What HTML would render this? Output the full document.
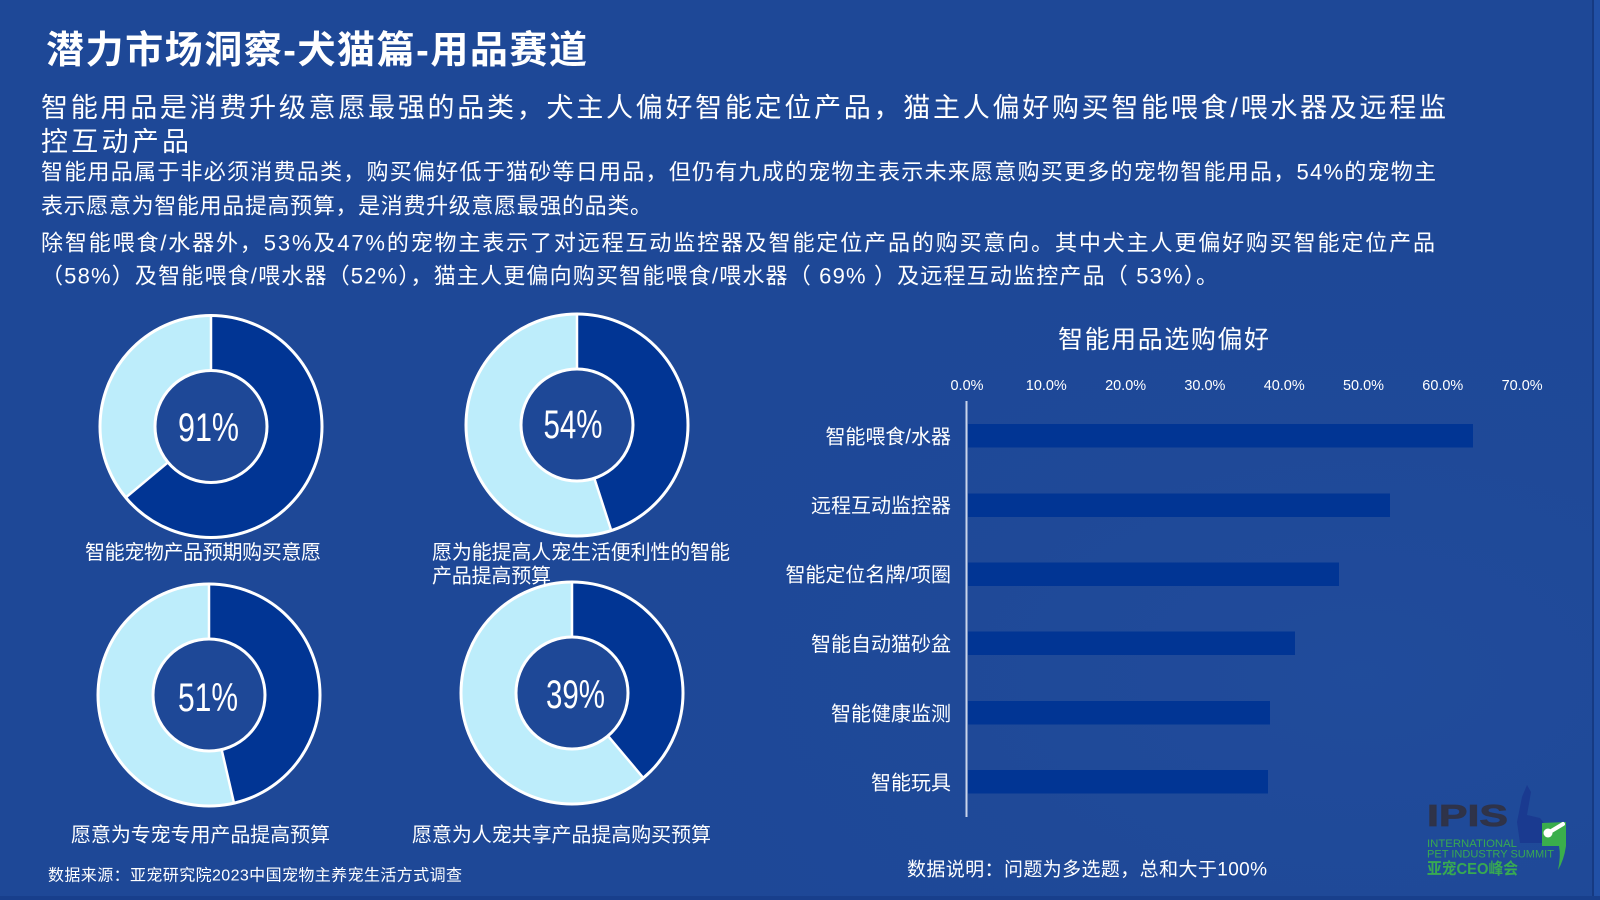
<!DOCTYPE html>
<html>
<head>
<meta charset="utf-8">
<style>
html,body{margin:0;padding:0;background:#1e4897;}
body{width:1600px;height:900px;overflow:hidden;}
svg{display:block;}
text{font-family:"Liberation Sans","Noto Sans CJK SC",sans-serif;fill:#ffffff;}
</style>
</head>
<body>
<svg width="1600" height="900" viewBox="0 0 1600 900" xmlns="http://www.w3.org/2000/svg">
  <defs>
    <radialGradient id="bgGlow" cx="0.85" cy="0.75" r="0.6">
      <stop offset="0" stop-color="#2552a3" stop-opacity="0.35"/>
      <stop offset="1" stop-color="#1e4897" stop-opacity="0"/>
    </radialGradient>
  </defs>
  <rect x="0" y="0" width="1600" height="900" fill="#1e4897"/>
  <rect x="0" y="0" width="1600" height="900" fill="url(#bgGlow)"/>
  <!-- edges -->
  <rect x="1592" y="0" width="2" height="900" fill="#163a82"/>
  <rect x="1594" y="0" width="6" height="900" fill="#2150a6"/>
  <rect x="0" y="896" width="1600" height="4" fill="#183f8c"/>

  <!-- Title -->
  <text x="46" y="63" font-size="38" font-weight="700" textLength="541" lengthAdjust="spacing">潜力市场洞察-犬猫篇-用品赛道</text>

  <!-- Subtitle -->
  <text x="41" y="117" font-size="27" textLength="1405" lengthAdjust="spacing">智能用品是消费升级意愿最强的品类，犬主人偏好智能定位产品，猫主人偏好购买智能喂食/喂水器及远程监</text>
  <text x="41" y="151" font-size="27" textLength="148" lengthAdjust="spacing">控互动产品</text>

  <!-- Body -->
  <text x="41" y="179.5" font-size="22" textLength="1395" lengthAdjust="spacing">智能用品属于非必须消费品类，购买偏好低于猫砂等日用品，但仍有九成的宠物主表示未来愿意购买更多的宠物智能用品，54%的宠物主</text>
  <text x="41" y="213.5" font-size="22" textLength="611" lengthAdjust="spacing">表示愿意为智能用品提高预算，是消费升级意愿最强的品类。</text>
  <text x="41" y="250.5" font-size="22" textLength="1394" lengthAdjust="spacing">除智能喂食/水器外，53%及47%的宠物主表示了对远程互动监控器及智能定位产品的购买意向。其中犬主人更偏好购买智能定位产品</text>
  <text x="41" y="283.5" font-size="22" textLength="1177" lengthAdjust="spacing">（58%）及智能喂食/喂水器（52%），猫主人更偏向购买智能喂食/喂水器（ 69% ）及远程互动监控产品（ 53%）。</text>

  <!-- Donut 1 -->
  <g>
    <circle cx="211" cy="426.5" r="83.5" fill="none" stroke="#bdedfb" stroke-width="55"/>
    <circle cx="211" cy="426.5" r="83.5" fill="none" stroke="#013594" stroke-width="55" stroke-dasharray="335.4 1000" transform="rotate(-90 211 426.5)"/>
    <circle cx="211" cy="426.5" r="111" fill="none" stroke="#ffffff" stroke-width="3"/>
    <circle cx="211" cy="426.5" r="56" fill="#1e4897" stroke="#ffffff" stroke-width="3"/>
    <line x1="211" y1="370.5" x2="211" y2="315.5" stroke="#ffffff" stroke-width="2.5"/>
    <line x1="168" y1="462.3" x2="125.7" y2="497.6" stroke="#ffffff" stroke-width="2.5"/>
    <text x="208.5" y="441" font-size="40" text-anchor="middle" textLength="61" lengthAdjust="spacingAndGlyphs">91%</text>
  </g>
  <!-- Donut 2 -->
  <g>
    <circle cx="577" cy="425" r="83.5" fill="none" stroke="#bdedfb" stroke-width="55"/>
    <circle cx="577" cy="425" r="83.5" fill="none" stroke="#013594" stroke-width="55" stroke-dasharray="236.1 1000" transform="rotate(-90 577 425)"/>
    <circle cx="577" cy="425" r="111" fill="none" stroke="#ffffff" stroke-width="3"/>
    <circle cx="577" cy="425" r="56" fill="#1e4897" stroke="#ffffff" stroke-width="3"/>
    <line x1="577" y1="369" x2="577" y2="314" stroke="#ffffff" stroke-width="2.5"/>
    <line x1="594.3" y1="478.3" x2="611.3" y2="530.6" stroke="#ffffff" stroke-width="2.5"/>
    <text x="573" y="438" font-size="40" text-anchor="middle" textLength="59" lengthAdjust="spacingAndGlyphs">54%</text>
  </g>
  <!-- Donut 3 -->
  <g>
    <circle cx="209" cy="695" r="83.5" fill="none" stroke="#bdedfb" stroke-width="55"/>
    <circle cx="209" cy="695" r="83.5" fill="none" stroke="#013594" stroke-width="55" stroke-dasharray="243.4 1000" transform="rotate(-90 209 695)"/>
    <circle cx="209" cy="695" r="111" fill="none" stroke="#ffffff" stroke-width="3"/>
    <circle cx="209" cy="695" r="56" fill="#1e4897" stroke="#ffffff" stroke-width="3"/>
    <line x1="209" y1="639" x2="209" y2="584" stroke="#ffffff" stroke-width="2.5"/>
    <line x1="221.6" y1="749.5" x2="234" y2="803.1" stroke="#ffffff" stroke-width="2.5"/>
    <text x="208" y="711" font-size="40" text-anchor="middle" textLength="60" lengthAdjust="spacingAndGlyphs">51%</text>
  </g>
  <!-- Donut 4 -->
  <g>
    <circle cx="572" cy="693" r="83.5" fill="none" stroke="#bdedfb" stroke-width="55"/>
    <circle cx="572" cy="693" r="83.5" fill="none" stroke="#013594" stroke-width="55" stroke-dasharray="204 1000" transform="rotate(-90 572 693)"/>
    <circle cx="572" cy="693" r="111" fill="none" stroke="#ffffff" stroke-width="3"/>
    <circle cx="572" cy="693" r="56" fill="#1e4897" stroke="#ffffff" stroke-width="3"/>
    <line x1="572" y1="637" x2="572" y2="582" stroke="#ffffff" stroke-width="2.5"/>
    <line x1="608" y1="735.9" x2="643.4" y2="778" stroke="#ffffff" stroke-width="2.5"/>
    <text x="575.5" y="708" font-size="40" text-anchor="middle" textLength="59" lengthAdjust="spacingAndGlyphs">39%</text>
  </g>

  <!-- Donut labels -->
  <text x="85" y="559" font-size="20" textLength="236" lengthAdjust="spacing">智能宠物产品预期购买意愿</text>
  <text x="432" y="559" font-size="20" textLength="298" lengthAdjust="spacing">愿为能提高人宠生活便利性的智能</text>
  <text x="432" y="582.5" font-size="20" textLength="119" lengthAdjust="spacing">产品提高预算</text>
  <text x="71" y="841.5" font-size="20" textLength="259" lengthAdjust="spacing">愿意为专宠专用产品提高预算</text>
  <text x="412" y="841.5" font-size="20" textLength="299" lengthAdjust="spacing">愿意为人宠共享产品提高购买预算</text>
  <text x="48" y="880.5" font-size="16" textLength="414" lengthAdjust="spacing">数据来源：亚宠研究院2023中国宠物主养宠生活方式调查</text>

  <!-- Bar chart -->
  <text x="1058" y="348" font-size="25" textLength="211" lengthAdjust="spacing">智能用品选购偏好</text>
  <g font-size="15">
    <text x="967" y="390" text-anchor="middle" textLength="33" lengthAdjust="spacingAndGlyphs">0.0%</text>
    <text x="1046.3" y="390" text-anchor="middle" textLength="41" lengthAdjust="spacingAndGlyphs">10.0%</text>
    <text x="1125.6" y="390" text-anchor="middle" textLength="41" lengthAdjust="spacingAndGlyphs">20.0%</text>
    <text x="1204.9" y="390" text-anchor="middle" textLength="41" lengthAdjust="spacingAndGlyphs">30.0%</text>
    <text x="1284.2" y="390" text-anchor="middle" textLength="41" lengthAdjust="spacingAndGlyphs">40.0%</text>
    <text x="1363.5" y="390" text-anchor="middle" textLength="41" lengthAdjust="spacingAndGlyphs">50.0%</text>
    <text x="1442.8" y="390" text-anchor="middle" textLength="41" lengthAdjust="spacingAndGlyphs">60.0%</text>
    <text x="1522.1" y="390" text-anchor="middle" textLength="41" lengthAdjust="spacingAndGlyphs">70.0%</text>
  </g>
  <g fill="#013594">
    <rect x="968" y="424" width="505" height="23.5"/>
    <rect x="968" y="493.5" width="422" height="23.5"/>
    <rect x="968" y="562.5" width="371" height="23.5"/>
    <rect x="968" y="631.5" width="327" height="23.5"/>
    <rect x="968" y="701" width="302" height="23.5"/>
    <rect x="968" y="770" width="300" height="23.5"/>
  </g>
  <line x1="966.5" y1="401" x2="966.5" y2="817" stroke="#c9d4ea" stroke-width="2"/>
  <g font-size="20" text-anchor="end">
    <text x="951" y="443.5">智能喂食/水器</text>
    <text x="951" y="512.5">远程互动监控器</text>
    <text x="951" y="581.5">智能定位名牌/项圈</text>
    <text x="951" y="651">智能自动猫砂盆</text>
    <text x="951" y="720.5">智能健康监测</text>
    <text x="951" y="789.5">智能玩具</text>
  </g>
  <text x="907" y="875.5" font-size="19" textLength="360" lengthAdjust="spacing">数据说明：问题为多选题，总和大于100%</text>

  <!-- Logo -->
  <g>
    <polygon points="1527,785 1531,792 1527,815 1540,818 1549,830 1546,843 1520,843 1517,822 1522,797" fill="#1a3a90"/>
    <text x="1427" y="826" font-size="31" font-weight="700" textLength="81" lengthAdjust="spacingAndGlyphs" style="fill:#2f3349;stroke:#2f3349;stroke-width:0.8">IPIS</text>
    <text x="1427" y="847" font-size="11" textLength="90" lengthAdjust="spacingAndGlyphs" style="fill:#38a952">INTERNATIONAL</text>
    <text x="1427" y="857.5" font-size="11" textLength="127" lengthAdjust="spacingAndGlyphs" style="fill:#38a952">PET INDUSTRY SUMMIT</text>
    <text x="1427" y="874" font-size="16" font-weight="700" textLength="91" lengthAdjust="spacingAndGlyphs" style="fill:#38a952">亚宠CEO峰会</text>
    <path d="M1542,823 L1566,822 L1566,846 Q1564,860 1558,870 Q1561,856 1559,846 L1542,846 Z" fill="#3aae4c"/>
    <circle cx="1548" cy="833" r="4.5" fill="#ffffff"/>
    <line x1="1548" y1="833" x2="1563" y2="824" stroke="#ffffff" stroke-width="4" stroke-linecap="round"/>
  </g>
</svg>
</body>
</html>
